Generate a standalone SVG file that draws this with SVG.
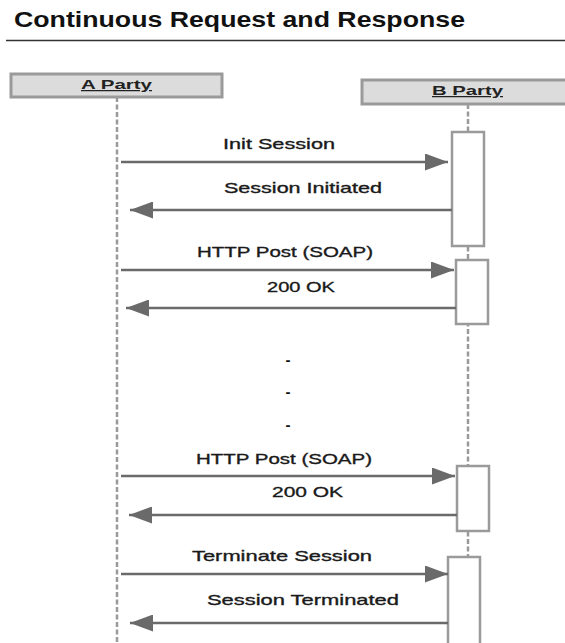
<svg xmlns="http://www.w3.org/2000/svg" width="565" height="643" viewBox="0 0 565 643">
  <style>
    .title { font-family: "Liberation Sans", Arial, sans-serif; font-size: 22px; font-weight: bold; fill: #111; }
    .party { fill: #dcdcdc; stroke: #9a9a9a; stroke-width: 3; }
    .pname { font-family: "Liberation Sans", Arial, sans-serif; font-size: 12.5px; font-weight: bold; fill: #222; text-decoration: underline; }
    .life { stroke: #9a9a9a; stroke-width: 2.5; stroke-dasharray: 5 2.5; fill: none; }
    .act { fill: #ffffff; stroke: #9a9a9a; stroke-width: 2.5; }
    .msg { stroke: #6a6a6a; stroke-width: 2.5; fill: none; marker-end: url(#head); }
    .lbl { font-family: "Liberation Sans", Arial, sans-serif; font-size: 15px; fill: #1a1a1a; stroke: #1a1a1a; stroke-width: 0.35; }
    .dot { font-family: "Liberation Sans", Arial, sans-serif; font-size: 15px; font-weight: bold; fill: #111; text-anchor: middle; }
  </style>
  <defs>
    <marker id="head" markerUnits="userSpaceOnUse" markerWidth="23" markerHeight="17" refX="23" refY="8.5" orient="auto">
      <path d="M0,0 L23,8.5 L0,17 Z" fill="#6a6a6a"/>
    </marker>
  </defs>

  <rect width="565" height="643" fill="#ffffff"/>

  <!-- heading -->
  <text class="title" x="14" y="27" textLength="451" lengthAdjust="spacingAndGlyphs">Continuous Request and Response</text>
  <line x1="6" y1="40.5" x2="565" y2="40.5" stroke="#333" stroke-width="1.5"/>

  <!-- participant A -->
  <g id="party-a">
    <line class="life" x1="117" y1="97" x2="117" y2="643"/>
    <rect class="party" x="11" y="74" width="211" height="23"/>
    <text class="pname" x="81" y="89" textLength="71" lengthAdjust="spacingAndGlyphs">A Party</text>
  </g>

  <!-- participant B -->
  <g id="party-b">
    <line class="life" x1="468" y1="104" x2="468" y2="643"/>
    <rect class="party" x="362" y="80" width="220" height="24"/>
    <text class="pname" x="432" y="95" textLength="71" lengthAdjust="spacingAndGlyphs">B Party</text>
  </g>

  <!-- activations on B -->
  <g id="act-init"><rect class="act" x="452" y="132" width="32" height="114"/></g>
  <g id="act-post1"><rect class="act" x="456" y="260" width="32" height="64"/></g>
  <g id="act-post2"><rect class="act" x="457" y="466" width="32" height="65"/></g>
  <g id="act-term"><rect class="act" x="448" y="557" width="32" height="100"/></g>

  <!-- messages -->
  <g id="connectors">
    <line class="msg" x1="121" y1="162" x2="448" y2="162"/>
    <line class="msg" x1="452" y1="210" x2="130" y2="210"/>
    <line class="msg" x1="121" y1="270" x2="454" y2="270"/>
    <line class="msg" x1="456" y1="308" x2="126" y2="308"/>
    <line class="msg" x1="121" y1="476" x2="455" y2="476"/>
    <line class="msg" x1="457" y1="515" x2="129" y2="515"/>
    <line class="msg" x1="121" y1="574" x2="448" y2="574"/>
    <line class="msg" x1="448" y1="623" x2="130" y2="623"/>
  </g>

  <!-- message labels -->
  <g id="labels">
    <text class="lbl" x="223" y="149" textLength="112" lengthAdjust="spacingAndGlyphs">Init Session</text>
    <text class="lbl" x="224" y="193" textLength="158" lengthAdjust="spacingAndGlyphs">Session Initiated</text>
    <text class="lbl" x="197" y="257" textLength="176" lengthAdjust="spacingAndGlyphs">HTTP Post (SOAP)</text>
    <text class="lbl" x="267" y="292" textLength="68" lengthAdjust="spacingAndGlyphs">200 OK</text>
    <text class="lbl" x="196" y="464" textLength="176" lengthAdjust="spacingAndGlyphs">HTTP Post (SOAP)</text>
    <text class="lbl" x="272" y="497" textLength="71" lengthAdjust="spacingAndGlyphs">200 OK</text>
    <text class="lbl" x="192" y="561" textLength="180" lengthAdjust="spacingAndGlyphs">Terminate Session</text>
    <text class="lbl" x="207" y="605" textLength="192" lengthAdjust="spacingAndGlyphs">Session Terminated</text>
  </g>

  <!-- ellipsis between exchanges -->
  <g id="ellipsis">
    <text class="dot" x="288" y="365">-</text>
    <text class="dot" x="288" y="397">-</text>
    <text class="dot" x="288" y="430">-</text>
  </g>
</svg>
